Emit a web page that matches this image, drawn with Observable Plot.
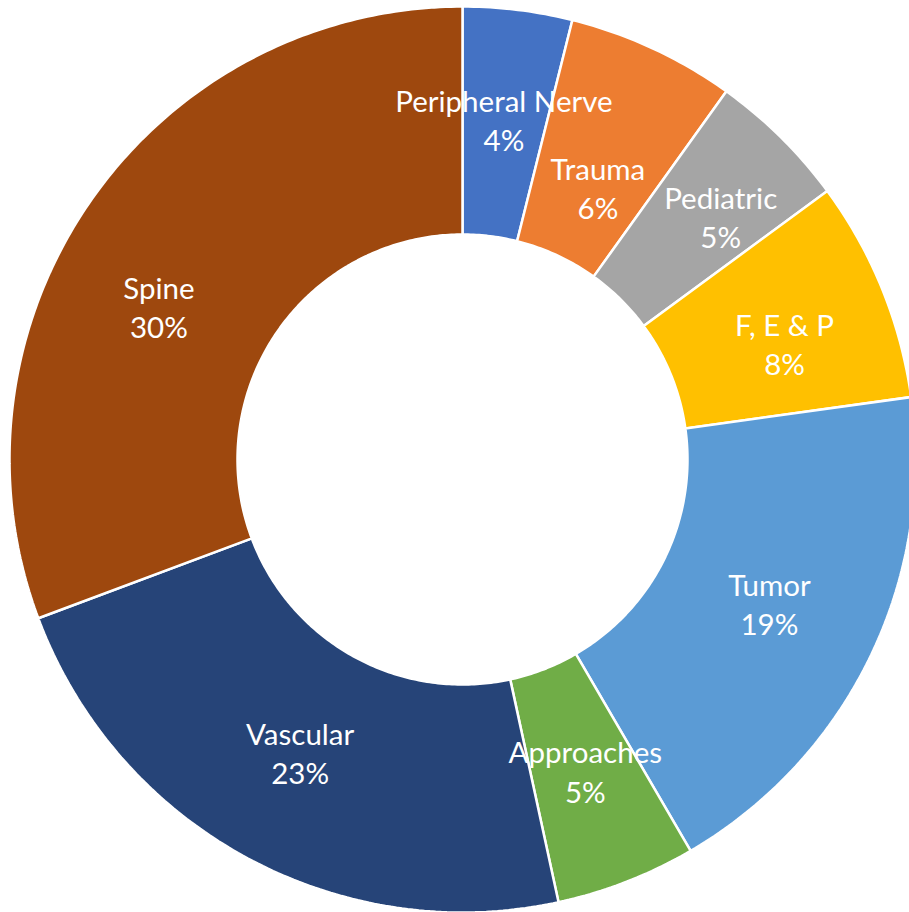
<!DOCTYPE html>
<html>
<head>
<meta charset="utf-8">
<script src="https://cdn.jsdelivr.net/npm/d3@7"></script>
<script src="https://cdn.jsdelivr.net/npm/@observablehq/plot@0.6"></script>
<style>
  html, body { margin: 0; padding: 0; background: #fff; }
</style>
</head>
<body>
<div id="chart"></div>
<script>
// Data (clockwise from 12 o'clock)
const categories = ["Peripheral Nerve", "Trauma", "Pediatric", "F, E & P", "Tumor", "Approaches", "Vascular", "Spine"];
const values = [3.9, 6.0, 5.0, 7.9, 18.8, 5.0, 22.7, 30.7];
const percentLabels = ["4%", "6%", "5%", "8%", "19%", "5%", "23%", "30%"];
const colors = ["#4472C4", "#ED7D31", "#A5A5A5", "#FFC000", "#5B9BD5", "#70AD47", "#264478", "#9E480E"];
// label nudges in pixels (Excel's label placement)
const labelNudgeX = [0, -7, 20, 8, 2, 0, 0, -25];
const labelNudgeY = [-4, 35, -2, 11, -5, -5, -5, 40];

const W = 909, H = 912;
const cx = 462, cy = 459, R = 453, r0 = 225; // pixel geometry of ring
const outer = 1, inner = r0 / R;

const pie = d3.pie().sort(null).value(d => d.value);
const rows = categories.map((c, i) => ({category: c, value: values[i], pct: percentLabels[i], color: colors[i], i}));
const arcs = pie(rows);

// build ring polygons in data space (unit circle)
const polys = arcs.map(a => {
  const n = Math.max(8, Math.ceil((a.endAngle - a.startAngle) * 80));
  const pts = [];
  for (let k = 0; k <= n; k++) {
    const t = a.startAngle + (a.endAngle - a.startAngle) * k / n;
    pts.push({x: outer * Math.sin(t), y: outer * Math.cos(t)});
  }
  for (let k = n; k >= 0; k--) {
    const t = a.startAngle + (a.endAngle - a.startAngle) * k / n;
    pts.push({x: inner * Math.sin(t), y: inner * Math.cos(t)});
  }
  pts.push(pts[0]);
  return {pts, color: a.data.color};
});

const midR = (outer + inner) / 2;
const labels = arcs.map(a => {
  const t = (a.startAngle + a.endAngle) / 2;
  return {
    x: midR * Math.sin(t) + labelNudgeX[a.data.i] / R,
    y: midR * Math.cos(t) - labelNudgeY[a.data.i] / R,
    text: a.data.category + "\n" + a.data.pct
  };
});

const marks = polys.map(p => Plot.line(p.pts, {
  x: "x", y: "y", fill: p.color, stroke: "white", strokeWidth: 2.5, strokeLinejoin: "miter", curve: "linear"
}));
marks.push(Plot.text(labels, {
  x: "x", y: "y", text: "text", fill: "white",
  fontSize: 29.5, lineHeight: 1.33, fontFamily: "Lato", textAnchor: "middle", lineAnchor: "middle"
}));

const chart = Plot.plot({
  width: W, height: H,
  margin: 0,
  x: {domain: [-cx / R, (W - cx) / R], axis: null},
  y: {domain: [-(H - cy) / R, cy / R], axis: null},
  style: {background: "white"},
  marks
});
document.getElementById("chart").appendChild(chart);
</script>
</body>
</html>
